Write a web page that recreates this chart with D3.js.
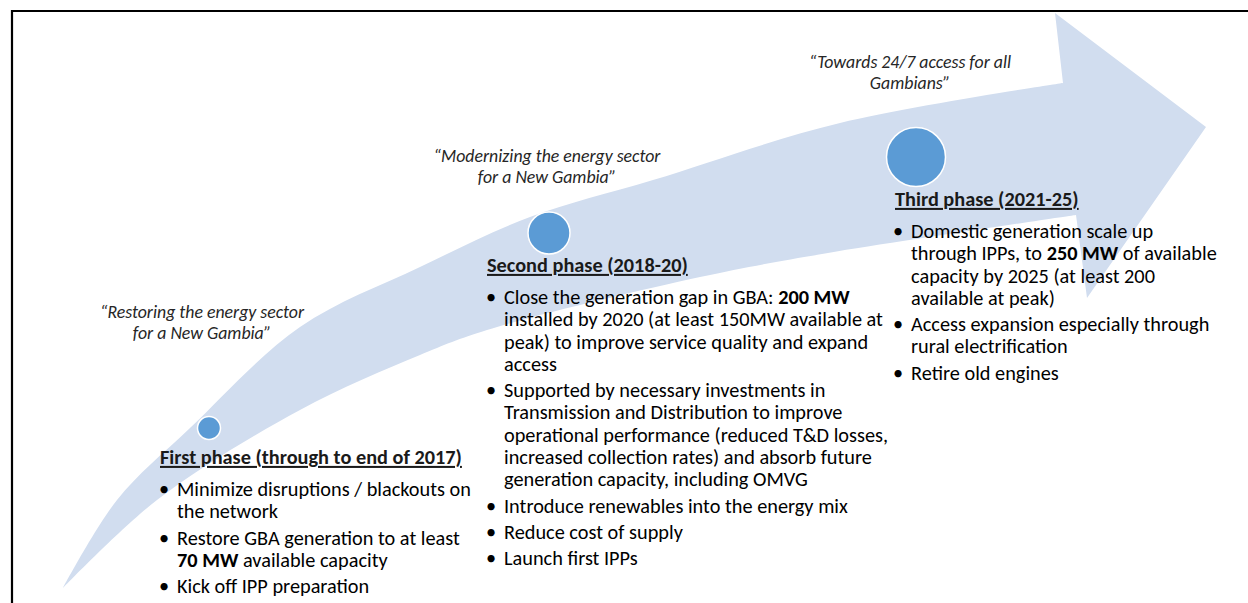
<!DOCTYPE html>
<html>
<head>
<meta charset="utf-8">
<script src="https://cdn.jsdelivr.net/npm/d3@7"></script>
<style>
  body { margin: 0; background: #fff; }
</style>
</head>
<body>
<svg id="svg0"></svg>
<script>
// ---- content ----
let phaseTitles = ['First phase (through to end of 2017)', 'Second phase (2018-20)', 'Third phase (2021-25)'];

let phaseMottoes = [
    ['\u201CRestoring the energy sector', 'for a New Gambia\u201D'],
    ['\u201CModernizing the energy sector', 'for a New Gambia\u201D'],
    ['\u201CTowards 24/7 access for all', 'Gambians\u201D']
];

// each bullet is a list of wrapped lines, **x** marks bold runs
let phaseBullets = [
    [
        ['Minimize disruptions / blackouts on', 'the network'],
        ['Restore GBA generation to at least', '**70 MW** available capacity'],
        ['Kick off IPP preparation']
    ],
    [
        ['Close the generation gap in GBA: **200 MW**', 'installed by 2020 (at least 150MW available at', 'peak) to improve service quality and expand', 'access'],
        ['Supported by necessary investments in', 'Transmission and Distribution to improve', 'operational performance (reduced T&D losses,', 'increased collection rates) and absorb future', 'generation capacity, including OMVG'],
        ['Introduce renewables into the energy mix'],
        ['Reduce cost of supply'],
        ['Launch first IPPs']
    ],
    [
        ['Domestic generation scale up', 'through IPPs, to **250 MW** of available', 'capacity by 2025 (at least 200', 'available at peak)'],
        ['Access expansion especially through', 'rural electrification'],
        ['Retire old engines']
    ]
];

// milestone marker size grows with each phase
let milestoneRadius = [11.5, 21, 29.5];

// ---- layout ----
let width = 1248, height = 603;
let layout = [
    {cx: 209, cy: 428, hx: 160, hy: 457, tx: 177, qx: 202, qy: 312},
    {cx: 549, cy: 233, hx: 487, hy: 265, tx: 504, qx: 547, qy: 156},
    {cx: 916, cy: 157, hx: 895, hy: 199, tx: 911, qx: 910, qy: 62}
];

// arrow outline: upper edge (tail -> head), head, lower edge (head -> tail)
let arrowUpper = [[63, 588], [117, 500], [190, 428], [300, 327], [420, 267], [530, 217], [653, 180], [840, 123], [1063, 83]];
let arrowHead = [[1055, 13], [1206, 127], [1087, 298], [1076, 215]];
let arrowLower = [[1076, 215], [828, 253], [700, 277], [487, 330], [420, 355], [300, 410], [157, 500], [63, 588]];

let fontFamily = 'Carlito, Calibri, Lato, sans-serif';
let lineH = 22.3, paraGap = 4;

let svg = d3.select('#svg0').attr('width', width).attr('height', height);

// pick font sizes that match the widths seen on the slide
function fitSize(sample, target, weight, style) {
    let t = svg.append('text').attr('font-family', fontFamily).attr('font-size', 100)
        .attr('font-weight', weight).attr('font-style', style).text(sample);
    let w = t.node().getComputedTextLength();
    t.remove();
    return 100 * target / w;
}
let bodySize = fitSize('Introduce renewables into the energy mix', 344, 400, 'normal');
let headSize = fitSize('Second phase (2018-20)', 201, 700, 'normal');
let quoteSize = fitSize('\u201CModernizing the energy sector', 227, 400, 'italic');

// frame
svg.append('path').attr('d', 'M12,' + height + 'V11H' + width)
    .attr('fill', 'none').attr('stroke', '#000').attr('stroke-width', 2.2);

// arrow
let curve = d3.line().curve(d3.curveCatmullRom.alpha(0.5));
let arrowD = curve(arrowUpper)
    + arrowHead.map(p => 'L' + p[0] + ',' + p[1]).join('')
    + 'L' + curve(arrowLower).slice(1) + 'Z';
svg.append('path').attr('d', arrowD).attr('fill', '#d1ddef');

// milestones
svg.selectAll('.milestone').data(layout).enter().append('circle')
    .attr('class', 'milestone')
    .attr('cx', d => d.cx).attr('cy', d => d.cy)
    .attr('r', (d, i) => milestoneRadius[i])
    .attr('fill', '#5b9bd5').attr('stroke', '#fff').attr('stroke-width', 1.5);

// mottoes
layout.forEach((d, i) => {
    let t = svg.append('text').attr('font-family', fontFamily).attr('font-style', 'italic')
        .attr('font-size', quoteSize).attr('fill', '#262626').attr('text-anchor', 'middle');
    phaseMottoes[i].forEach((line, j) => {
        t.append('tspan').attr('x', d.qx).attr('y', d.qy + j * 21 + quoteSize * 0.33).text(line);
    });
});

// headings
svg.selectAll('.heading').data(layout).enter().append('text')
    .attr('class', 'heading')
    .attr('x', d => d.hx).attr('y', d => d.hy + headSize * 0.34)
    .attr('font-family', fontFamily).attr('font-weight', 700).attr('font-size', headSize)
    .attr('fill', '#1a1a1a').style('text-decoration', 'underline')
    .text((d, i) => phaseTitles[i]);

// bullets
layout.forEach((d, i) => {
    let y = d.hy + 32;
    phaseBullets[i].forEach(bullet => {
        svg.append('text').attr('x', d.tx - 13).attr('y', y + bodySize * 0.34)
            .attr('text-anchor', 'middle')
            .attr('font-family', fontFamily).attr('font-size', bodySize).attr('fill', '#000')
            .text('\u2022');
        bullet.forEach(line => {
            let t = svg.append('text').attr('x', d.tx).attr('y', y + bodySize * 0.34)
                .attr('font-family', fontFamily).attr('font-size', bodySize).attr('fill', '#000')
                .style('white-space', 'pre');
            line.split('**').forEach((part, k) => {
                if (part) t.append('tspan').attr('font-weight', k % 2 ? 700 : 400).text(part);
            });
            y += lineH;
        });
        y += paraGap;
    });
});
</script>
</body>
</html>
